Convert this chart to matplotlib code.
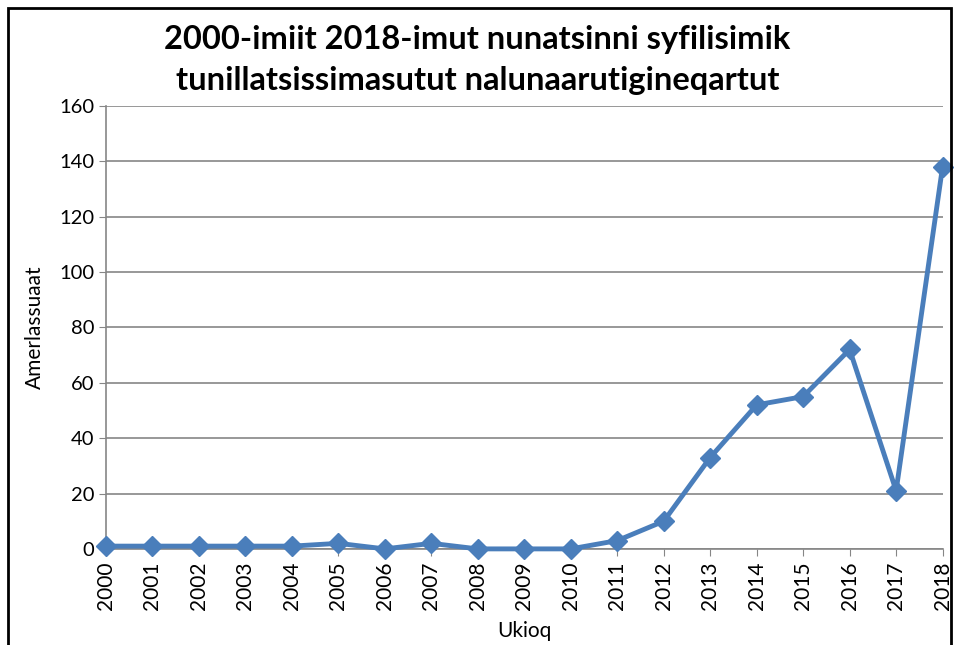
import matplotlib
matplotlib.use("Agg")
import matplotlib.pyplot as plt
from matplotlib.patches import Rectangle

years = [str(y) for y in range(2000, 2019)]
cases = [1, 1, 1, 1, 1, 2, 0, 2, 0, 0, 0, 3, 10, 33, 52, 55, 72, 21, 138]

title = "2000-imiit 2018-imut nunatsinni syfilisimik\ntunillatsissimasutut nalunaarutigineqartut"

plt.rcParams['font.family'] = ['Lato', 'DejaVu Sans']

fig = plt.figure(figsize=(9.55, 6.45), dpi=100)
ax = fig.add_axes([0.111, 0.149, 0.876, 0.687])

x = list(range(len(years)))
ax.plot(x, cases, color="#4a7ebb", lw=3.5, marker="D", ms=10,
        markerfacecolor="#4a7ebb", markeredgecolor="#4a7ebb", zorder=3,
        clip_on=False)

ax.set_xlim(0, len(years) - 1)
ax.set_ylim(0, 160)
ax.set_yticks(range(0, 161, 20))
ax.set_xticks(x)
ax.set_xticklabels(years, rotation=90, fontsize=15)
ax.tick_params(axis="y", labelsize=14.5, length=5, color="#868686")
ax.tick_params(axis="x", length=5, color="#868686", pad=4)
ax.grid(axis="y", color="#868686", lw=1.2)
ax.set_axisbelow(True)
for s in ["top", "right"]:
    ax.spines[s].set_visible(False)
for s in ["left", "bottom"]:
    ax.spines[s].set_color("#868686")
    ax.spines[s].set_linewidth(1.2)

ax.set_xlabel("Ukioq", fontsize=15, labelpad=8)
ax.set_ylabel("Amerlassuaat", fontsize=15, labelpad=10)
fig.text(0.5, 0.907, title, ha="center", va="center", fontsize=23.5,
         fontweight="bold", linespacing=1.5)

# outer frame like the screenshot
fig.patches.append(Rectangle((0.008, -0.02), 0.988, 1.008, transform=fig.transFigure,
                             fill=False, ec="black", lw=2))

fig.savefig("out.png", dpi=100)
